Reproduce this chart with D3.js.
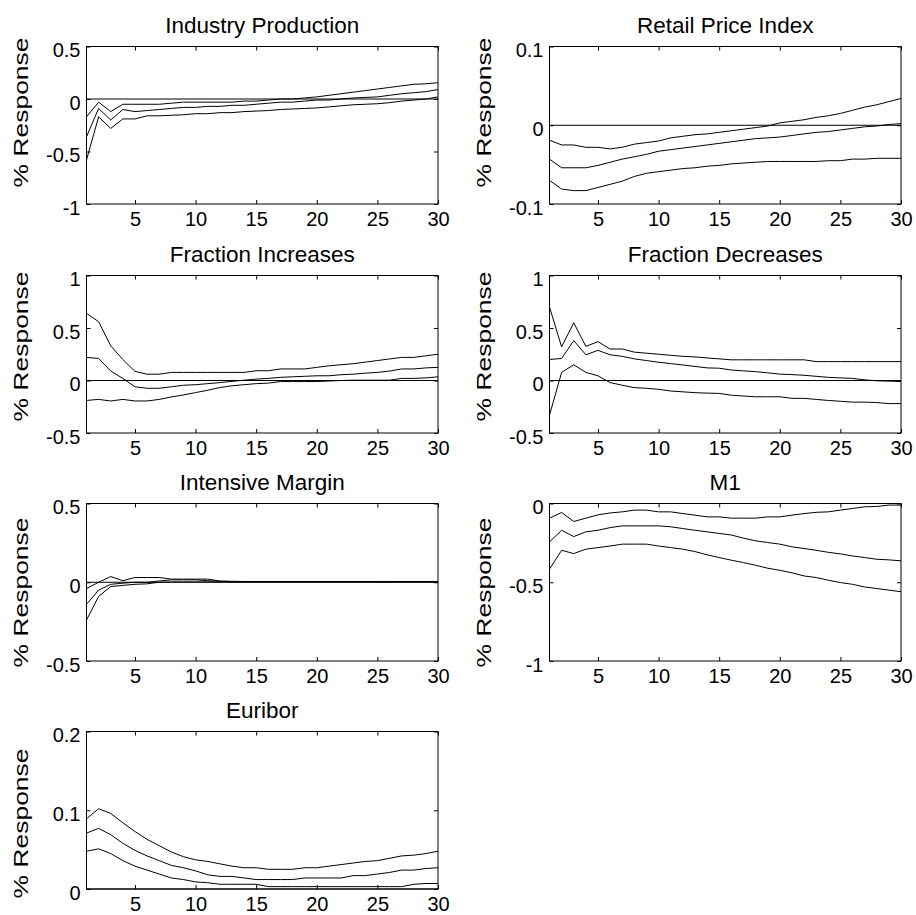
<!DOCTYPE html>
<html>
<head>
<meta charset="utf-8">
<script src="https://cdn.jsdelivr.net/npm/d3@7"></script>
<style>
  html, body { margin: 0; padding: 0; background: #ffffff; }
  svg { display: block; font-family: Arial, "Liberation Sans", sans-serif; }
</style>
</head>
<body>
<svg id="chart" width="916" height="915"></svg>
<script>
// Impulse responses over 30 periods: upper band, median, lower band per variable.
const periods = d3.range(1, 31);
const xTickValues = [5, 10, 15, 20, 25, 30];

const titles = ["Industry Production", "Retail Price Index", "Fraction Increases",
  "Fraction Decreases", "Intensive Margin", "M1", "Euribor"];
const yLabel = "% Response";

const yDomains = [[-1, 0.5], [-0.1, 0.1], [-0.5, 1], [-0.5, 1], [-0.5, 0.5], [-1, 0], [0, 0.2]];
const yTickValues = [
  [-1, -0.5, 0, 0.5],
  [-0.1, 0, 0.1],
  [-0.5, 0, 0.5, 1],
  [-0.5, 0, 0.5, 1],
  [-0.5, 0, 0.5],
  [-1, -0.5, 0],
  [0, 0.1, 0.2]
];

const ipUpper = [-0.17, -0.03, -0.12, -0.05, -0.05, -0.05, -0.05, -0.04, -0.03, -0.03, -0.03, -0.03, -0.03, -0.02, -0.02,
  -0.01, 0.0, 0.0, 0.01, 0.02, 0.035, 0.05, 0.065, 0.08, 0.095, 0.11, 0.125, 0.14, 0.145, 0.155];
const ipMedian = [-0.36, -0.09, -0.2, -0.1, -0.12, -0.11, -0.1, -0.09, -0.08, -0.08, -0.07, -0.07, -0.06, -0.06, -0.05,
  -0.04, -0.03, -0.03, -0.02, -0.01, -0.01, 0.0, 0.01, 0.015, 0.02, 0.035, 0.05, 0.06, 0.07, 0.09];
const ipLower = [-0.58, -0.17, -0.28, -0.19, -0.19, -0.16, -0.16, -0.155, -0.15, -0.14, -0.14, -0.13, -0.13, -0.12, -0.115,
  -0.11, -0.1, -0.095, -0.09, -0.085, -0.075, -0.065, -0.055, -0.05, -0.045, -0.035, -0.02, -0.01, 0.0, 0.02];

const rpiUpper = [-0.019, -0.025, -0.025, -0.028, -0.028, -0.03, -0.028, -0.024, -0.022, -0.02, -0.016, -0.014, -0.012, -0.011, -0.009,
  -0.007, -0.005, -0.003, -0.001, 0.003, 0.005, 0.007, 0.01, 0.012, 0.015, 0.019, 0.023, 0.026, 0.03, 0.034];
const rpiMedian = [-0.043, -0.054, -0.054, -0.054, -0.051, -0.047, -0.043, -0.04, -0.037, -0.033, -0.031, -0.029, -0.027, -0.025, -0.023,
  -0.021, -0.019, -0.017, -0.016, -0.015, -0.013, -0.011, -0.009, -0.008, -0.006, -0.004, -0.002, -0.001, 0.001, 0.002];
const rpiLower = [-0.07, -0.081, -0.083, -0.083, -0.079, -0.075, -0.071, -0.065, -0.061, -0.059, -0.057, -0.055, -0.054, -0.052, -0.051,
  -0.049, -0.048, -0.047, -0.046, -0.046, -0.046, -0.046, -0.046, -0.045, -0.045, -0.043, -0.043, -0.042, -0.042, -0.042];

const fiUpper = [0.64, 0.56, 0.33, 0.2, 0.087, 0.06, 0.06, 0.077, 0.077, 0.077, 0.077, 0.077, 0.077, 0.077, 0.093,
  0.093, 0.11, 0.11, 0.11, 0.125, 0.14, 0.15, 0.16, 0.175, 0.19, 0.205, 0.22, 0.22, 0.235, 0.25];
const fiMedian = [0.22, 0.21, 0.09, 0.02, -0.06, -0.074, -0.074, -0.06, -0.045, -0.04, -0.03, -0.02, -0.008, 0.003, 0.013,
  0.02, 0.03, 0.035, 0.04, 0.045, 0.045, 0.055, 0.06, 0.07, 0.077, 0.09, 0.11, 0.11, 0.12, 0.125];
const fiLower = [-0.19, -0.18, -0.195, -0.18, -0.195, -0.195, -0.18, -0.157, -0.138, -0.115, -0.093, -0.067, -0.05, -0.04, -0.03,
  -0.025, -0.01, -0.01, -0.01, -0.01, -0.005, 0.0, 0.003, 0.003, 0.003, 0.003, 0.02, 0.02, 0.025, 0.035];

const fdUpper = [0.7, 0.32, 0.55, 0.325, 0.37, 0.3, 0.3, 0.27, 0.26, 0.25, 0.24, 0.23, 0.225, 0.215, 0.206,
  0.197, 0.197, 0.197, 0.197, 0.197, 0.197, 0.197, 0.18, 0.18, 0.18, 0.18, 0.18, 0.18, 0.18, 0.18];
const fdMedian = [0.2, 0.21, 0.38, 0.245, 0.287, 0.245, 0.23, 0.206, 0.19, 0.174, 0.161, 0.148, 0.134, 0.12, 0.117,
  0.1, 0.092, 0.084, 0.073, 0.061, 0.056, 0.05, 0.04, 0.03, 0.025, 0.02, 0.006, -0.003, -0.006, -0.01];
const fdLower = [-0.33, 0.077, 0.15, 0.077, 0.045, -0.02, -0.045, -0.068, -0.074, -0.084, -0.1, -0.108, -0.116, -0.12, -0.123,
  -0.14, -0.148, -0.155, -0.155, -0.155, -0.17, -0.17, -0.18, -0.19, -0.198, -0.206, -0.206, -0.21, -0.22, -0.22];

const imUpper = [-0.04, 0.0, 0.036, 0.01, 0.03, 0.03, 0.03, 0.02, 0.02, 0.02, 0.02, 0.008, 0.006, 0.005, 0.005,
  0.005, 0.005, 0.005, 0.005, 0.005, 0.005, 0.005, 0.005, 0.005, 0.005, 0.005, 0.005, 0.005, 0.005, 0.005];
const imMedian = [-0.14, -0.05, -0.013, -0.006, 0.0, 0.0, 0.008, 0.015, 0.015, 0.015, 0.01, 0.006, 0.004, 0.003, 0.003,
  0.003, 0.003, 0.003, 0.003, 0.003, 0.003, 0.003, 0.003, 0.003, 0.003, 0.003, 0.003, 0.003, 0.003, 0.003];
const imLower = [-0.24, -0.09, -0.027, -0.02, -0.013, -0.01, 0.0, 0.002, 0.002, 0.002, 0.002, 0.002, 0.002, 0.002, 0.002,
  0.002, 0.002, 0.002, 0.002, 0.002, 0.002, 0.002, 0.002, 0.002, 0.002, 0.002, 0.002, 0.002, 0.002, 0.002];

const m1Upper = [-0.093, -0.057, -0.114, -0.093, -0.072, -0.06, -0.053, -0.042, -0.042, -0.053, -0.053, -0.064, -0.074, -0.085, -0.085,
  -0.093, -0.093, -0.093, -0.085, -0.085, -0.074, -0.064, -0.056, -0.053, -0.042, -0.032, -0.021, -0.019, -0.01, -0.01];
const m1Median = [-0.244, -0.17, -0.21, -0.18, -0.17, -0.153, -0.142, -0.142, -0.142, -0.142, -0.148, -0.159, -0.17, -0.18, -0.19,
  -0.2, -0.22, -0.237, -0.248, -0.258, -0.275, -0.286, -0.297, -0.31, -0.32, -0.333, -0.343, -0.354, -0.358, -0.364];
const m1Lower = [-0.417, -0.297, -0.318, -0.29, -0.28, -0.27, -0.258, -0.258, -0.258, -0.27, -0.28, -0.29, -0.305, -0.326, -0.343,
  -0.36, -0.375, -0.392, -0.411, -0.424, -0.44, -0.46, -0.47, -0.487, -0.502, -0.513, -0.53, -0.54, -0.55, -0.56];

const euUpper = [0.089, 0.102, 0.096, 0.084, 0.073, 0.063, 0.055, 0.047, 0.041, 0.037, 0.035, 0.032, 0.029, 0.027, 0.027,
  0.025, 0.025, 0.025, 0.027, 0.027, 0.029, 0.031, 0.033, 0.035, 0.036, 0.039, 0.042, 0.043, 0.045, 0.048];
const euMedian = [0.071, 0.077, 0.069, 0.058, 0.049, 0.042, 0.036, 0.03, 0.027, 0.023, 0.018, 0.016, 0.016, 0.014, 0.012,
  0.012, 0.012, 0.012, 0.014, 0.014, 0.014, 0.014, 0.017, 0.017, 0.019, 0.021, 0.024, 0.024, 0.026, 0.027];
const euLower = [0.048, 0.051, 0.045, 0.036, 0.029, 0.024, 0.019, 0.014, 0.012, 0.009, 0.008, 0.006, 0.006, 0.006, 0.006,
  0.003, 0.003, 0.003, 0.003, 0.003, 0.003, 0.003, 0.003, 0.003, 0.003, 0.003, 0.003, 0.006, 0.007, 0.007];

const panelSeries = [
  [ipUpper, ipMedian, ipLower],
  [rpiUpper, rpiMedian, rpiLower],
  [fiUpper, fiMedian, fiLower],
  [fdUpper, fdMedian, fdLower],
  [imUpper, imMedian, imLower],
  [m1Upper, m1Median, m1Lower],
  [euUpper, euMedian, euLower]
];

// Grid geometry: two columns, four rows of axes boxes.
const colLeft = [86.5, 549.5];
const rowTop = [46.5, 275.5, 503.5, 731.5];
const boxW = 351.5;
const boxH = 157.5;
const tickLen = 4;
// Vertical placement of the y label centre within each row's box
const yLabelCentre = [66, 71, 89, 92];

const svg = d3.select("#chart");

titles.forEach((title, i) => {
  const col = i % 2, row = Math.floor(i / 2);
  const g = svg.append("g")
    .attr("transform", `translate(${colLeft[col]},${rowTop[row]})`);

  const x = d3.scaleLinear().domain([1, 30]).range([0, boxW]);
  const y = d3.scaleLinear().domain(yDomains[i]).range([boxH, 0]);

  // Zero reference line
  g.append("line")
    .attr("x1", x(1)).attr("x2", x(30))
    .attr("y1", y(0)).attr("y2", y(0))
    .attr("stroke", "#000").attr("stroke-width", 1);

  // Response bands and median
  const line = d3.line().x((d, k) => x(periods[k])).y(d => y(d));
  panelSeries[i].forEach(s => {
    g.append("path")
      .datum(s)
      .attr("d", line)
      .attr("fill", "none")
      .attr("stroke", "#000")
      .attr("stroke-width", 1);
  });

  // Axes with inward ticks on all four sides
  const bottom = g.append("g").attr("transform", `translate(0,${boxH})`)
    .call(d3.axisBottom(x).tickValues(xTickValues).tickSize(-tickLen).tickPadding(7.5)
      .tickFormat(d => String(d)));
  g.append("g")
    .call(d3.axisTop(x).tickValues(xTickValues).tickSize(-tickLen).tickFormat(""));
  const left = g.append("g")
    .call(d3.axisLeft(y).tickValues(yTickValues[i]).tickSize(-tickLen).tickPadding(6)
      .tickFormat(d => String(d)));
  g.append("g").attr("transform", `translate(${boxW},0)`)
    .call(d3.axisRight(y).tickValues(yTickValues[i]).tickSize(-tickLen).tickFormat(""));

  g.selectAll(".domain").remove();
  g.selectAll(".tick line").attr("stroke", "#000");
  bottom.selectAll("text").attr("font-size", 20).attr("fill", "#000")
    .attr("font-family", "Arial, 'Liberation Sans', sans-serif");
  left.selectAll("text").attr("font-size", 20).attr("fill", "#000").attr("dy", "0.5em")
    .attr("font-family", "Arial, 'Liberation Sans', sans-serif");

  // Box
  g.append("rect")
    .attr("width", boxW).attr("height", boxH)
    .attr("fill", "none").attr("stroke", "#000").attr("stroke-width", 1);

  // Title
  g.append("text")
    .attr("x", boxW / 2).attr("y", -14)
    .attr("text-anchor", "middle")
    .attr("font-size", 22.5)
    .attr("fill", "#000")
    .text(title);

  // Y label
  g.append("text")
    .attr("transform", `translate(${-59},${yLabelCentre[row]}) rotate(-90)`)
    .attr("text-anchor", "middle")
    .attr("font-size", 20)
    .attr("fill", "#000")
    .attr("textLength", 150)
    .attr("lengthAdjust", "spacingAndGlyphs")
    .text(yLabel);
});
</script>
</body>
</html>
